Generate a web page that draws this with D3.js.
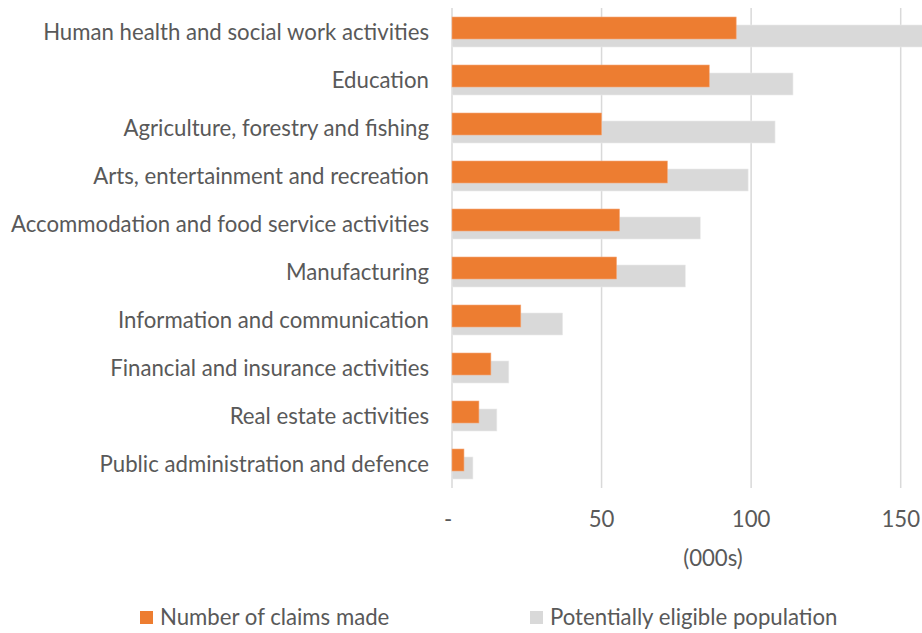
<!DOCTYPE html>
<html>
<head>
<meta charset="utf-8">
<script src="https://cdn.jsdelivr.net/npm/d3@7"></script>
<style>
  html, body { margin: 0; padding: 0; background: #fff; overflow: hidden; }
  svg { display: block; }
  text { font-family: Lato, "Open Sans", sans-serif; fill: #595959; }
</style>
</head>
<body>
<svg id="chart" width="922" height="633"></svg>
<script>
const categories = [
  "Human health and social work activities",
  "Education",
  "Agriculture, forestry and fishing",
  "Arts, entertainment and recreation",
  "Accommodation and food service activities",
  "Manufacturing",
  "Information and communication",
  "Financial and insurance activities",
  "Real estate activities",
  "Public administration and defence"
];
const claimsMade = [95, 86, 50, 72, 56, 55, 23, 13, 9, 4];
const eligiblePopulation = [160, 114, 108, 99, 83, 78, 37, 19, 15, 7];
const tickValues = [0, 50, 100, 150];
const tickLabels = ["-", "50", "100", "150"];
const seriesNames = ["Number of claims made", "Potentially eligible population"];
const colors = ["#ed7d31", "#d9d9d9"];

const svg = d3.select("#chart");

// pick a font size so the first label spans the same width as in the reference
const probe = svg.append("text").style("font-size", "100px").text(categories[0]);
const w100 = probe.node().getComputedTextLength();
probe.remove();
const fs = Math.max(16, Math.min(24, 100 * 386 / w100));
const fsPx = fs.toFixed(2) + "px";

const x = d3.scaleLinear().domain([0, 150]).range([452, 900.7]);
const y = d3.scaleBand().domain(categories).range([8, 488]).paddingInner(0).paddingOuter(0);

// gridlines
svg.append("g").selectAll("line").data(tickValues).join("line")
  .attr("x1", d => x(d)).attr("x2", d => x(d))
  .attr("y1", 8).attr("y2", 488)
  .attr("stroke", "#d9d9d9").attr("stroke-width", 1.5);

const barH = 22;
const offset = 8;
// gray bars (behind)
svg.append("g").selectAll("rect").data(categories).join("rect")
  .attr("x", x(0))
  .attr("y", (d) => y(d) + y.bandwidth() / 2 - barH / 2 + offset / 2)
  .attr("width", (d, i) => x(eligiblePopulation[i]) - x(0))
  .attr("height", barH)
  .attr("fill", colors[1])
  .attr("stroke", "#ececec").attr("stroke-width", 0.6);

// orange bars (front)
svg.append("g").selectAll("rect").data(categories).join("rect")
  .attr("x", x(0))
  .attr("y", (d) => y(d) + y.bandwidth() / 2 - barH / 2 - offset / 2)
  .attr("width", (d, i) => x(claimsMade[i]) - x(0))
  .attr("height", barH)
  .attr("fill", colors[0])
  .attr("stroke", "#f4a87a").attr("stroke-width", 0.6);

// category labels
svg.append("g").selectAll("text").data(categories).join("text")
  .attr("x", 429)
  .attr("y", d => y(d) + y.bandwidth() / 2)
  .attr("dy", "0.35em")
  .attr("text-anchor", "end")
  .style("font-size", fsPx)
  .text(d => d);

// x tick labels
svg.append("g").selectAll("text").data(tickValues).join("text")
  .attr("x", (d, i) => i === 0 ? x(d) - 4 : x(d))
  .attr("y", 527)
  .attr("text-anchor", "middle")
  .style("font-size", fsPx)
  .text((d, i) => tickLabels[i]);

// axis title
svg.append("text")
  .attr("x", 713).attr("y", 566)
  .attr("text-anchor", "middle")
  .style("font-size", fsPx)
  .text("(000s)");

// legend
const legendX = [140, 530];
const lg = svg.append("g").selectAll("g").data(seriesNames).join("g")
  .attr("transform", (d, i) => `translate(${legendX[i]},611)`);
lg.append("rect").attr("width", 13).attr("height", 13).attr("fill", (d, i) => colors[i]);
lg.append("text").attr("x", 20).attr("y", 6.5).attr("dy", "0.35em")
  .style("font-size", fsPx).text(d => d);
</script>
</body>
</html>
